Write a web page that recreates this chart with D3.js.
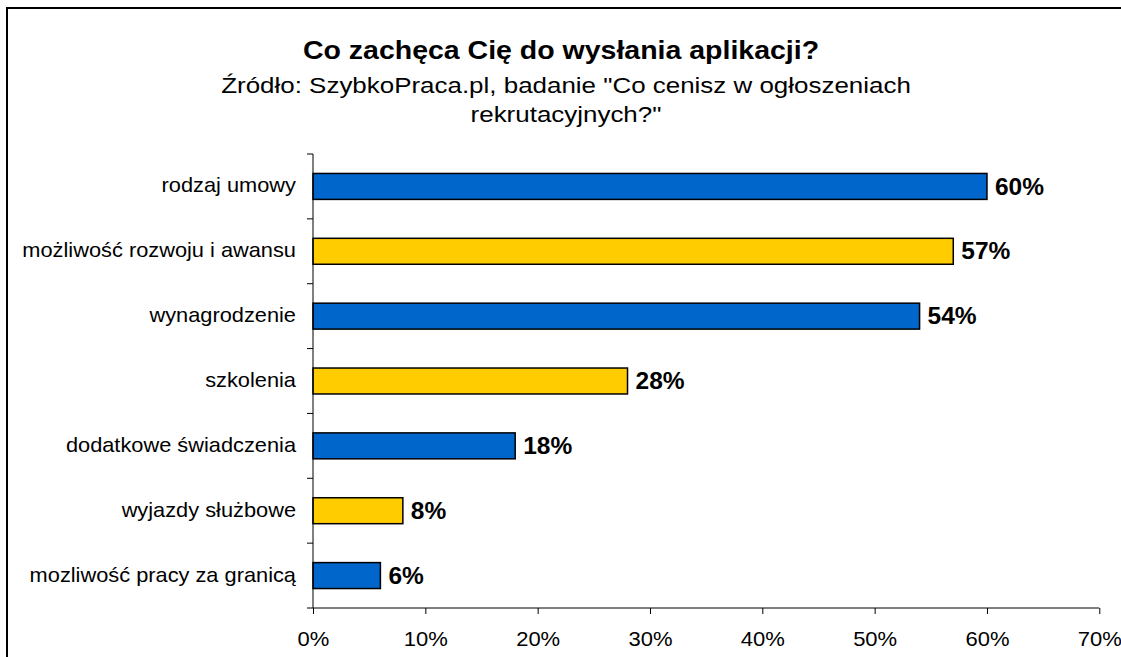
<!DOCTYPE html>
<html>
<head>
<meta charset="utf-8">
<script src="https://cdn.jsdelivr.net/npm/d3@7"></script>
<style>
  body { margin: 0; background: #fff; }
  svg { display: block; font-family: Arial, "Liberation Sans", sans-serif; }
</style>
</head>
<body>
<div id="chart"></div>
<script>
// dane z wykresu
var categories = ["rodzaj umowy", "możliwość rozwoju i awansu", "wynagrodzenie", "szkolenia",
                  "dodatkowe świadczenia", "wyjazdy służbowe", "mozliwość pracy za granicą"];
var values = [60, 57, 54, 28, 18, 8, 6];
var barColors = ["#0066cc", "#ffcc00"];
var xTicks = [0, 10, 20, 30, 40, 50, 60, 70];
var title = "Co zachęca Cię do wysłania aplikacji?";
var subtitle = ["Źródło: SzybkoPraca.pl, badanie \"Co cenisz w ogłoszeniach", "rekrutacyjnych?\""];

var W = 1121, H = 657;
var margin = {top: 154, right: 22, bottom: 49, left: 313};

var svg = d3.select("#chart").append("svg")
  .attr("width", W).attr("height", H);

// ramka (wychodzi poza okno z prawej i z dołu)
svg.append("rect")
  .attr("x", 7).attr("y", 8)
  .attr("width", W + 20).attr("height", H + 20)
  .attr("fill", "none").attr("stroke", "#000").attr("stroke-width", 2);

// tekst w Excelu jest troche rozciagniety w poziomie
svg.append("text")
  .attr("transform", "translate(561,58.5) scale(1.14,1)")
  .attr("text-anchor", "middle")
  .style("font-weight", "bold").style("font-size", "25px")
  .text(title);

svg.selectAll(".sub")
  .data(subtitle)
  .enter().append("text")
  .attr("class", "sub")
  .attr("transform", function(d, i) { return "translate(566," + (93.3 + i * 28.5) + ") scale(1.19,1)"; })
  .attr("text-anchor", "middle")
  .style("font-size", "21.8px")
  .text(function(d) { return d; });

var x = d3.scaleLinear().domain([0, 70]).range([margin.left, 1099.3]);
var y = d3.scaleBand().domain(categories).range([margin.top, H - margin.bottom])
  .paddingInner(0.6).paddingOuter(0.3);

// słupki
svg.append("g").selectAll("rect")
  .data(values)
  .enter().append("rect")
  .attr("x", x(0))
  .attr("y", function(d, i) { return y(categories[i]); })
  .attr("width", function(d) { return x(d) - x(0); })
  .attr("height", y.bandwidth())
  .attr("fill", function(d, i) { return barColors[i % 2]; })
  .attr("stroke", "#000").attr("stroke-width", 1.5);

// etykiety wartości
svg.append("g").selectAll("text")
  .data(values)
  .enter().append("text")
  .attr("x", function(d) { return x(d) + 8; })
  .attr("y", function(d, i) { return y(categories[i]) + y.bandwidth() / 2; })
  .attr("dy", "0.33em")
  .style("font-weight", "bold").style("font-size", "24.5px")
  .text(function(d) { return d + "%"; });

// oś X
var xAxis = svg.append("g")
  .attr("transform", "translate(0," + (H - margin.bottom) + ")")
  .call(d3.axisBottom(x).tickValues(xTicks).tickSize(6).tickPadding(18)
    .tickFormat(function(d) { return d + "%"; }));
xAxis.select(".domain").attr("stroke", "#000").attr("d", "M" + x(0) + ",0H" + x(70));
xAxis.selectAll(".tick text")
  .attr("transform", "scale(1.1,1)")
  .attr("x", 0)
  .style("font-size", "20px").attr("fill", "#000")
  .style("font-family", "Arial, 'Liberation Sans', sans-serif");

// oś Y – kreski na granicach kategorii
var yAxis = svg.append("g").attr("transform", "translate(" + margin.left + ",0)");
yAxis.append("line")
  .attr("x1", 0).attr("x2", 0)
  .attr("y1", margin.top).attr("y2", H - margin.bottom)
  .attr("stroke", "#000");
var bandH = (H - margin.bottom - margin.top) / categories.length;
yAxis.selectAll(".tk")
  .data(d3.range(categories.length + 1))
  .enter().append("line")
  .attr("class", "tk")
  .attr("x1", -6).attr("x2", 0)
  .attr("y1", function(i) { return margin.top + i * bandH; })
  .attr("y2", function(i) { return margin.top + i * bandH; })
  .attr("stroke", "#000");
yAxis.selectAll(".lab")
  .data(categories)
  .enter().append("text")
  .attr("class", "lab")
  .attr("transform", function(d) { return "translate(-17," + (y(d) + y.bandwidth() / 2) + ") scale(1.09,1)"; })
  .attr("dy", "0.3em")
  .attr("text-anchor", "end")
  .style("font-size", "20px")
  .text(function(d) { return d; });
</script>
</body>
</html>
